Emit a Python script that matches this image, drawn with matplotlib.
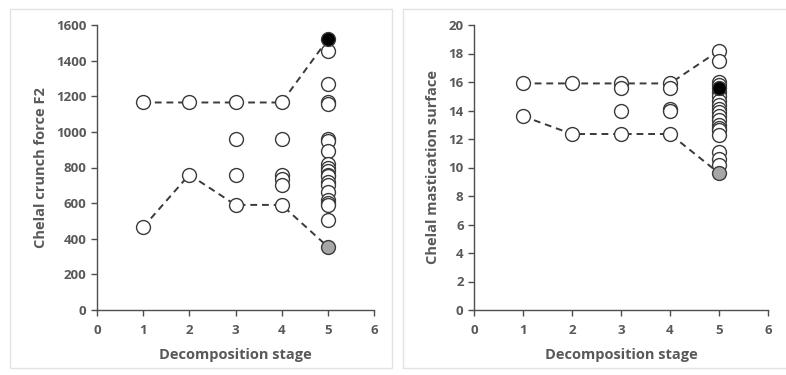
import matplotlib
matplotlib.use("Agg")
import matplotlib.pyplot as plt
from matplotlib.patches import Rectangle

# ---- data: chelal crunch force F2 ----
force_stages = [1, 1, 2, 2, 3, 3, 3, 3, 4, 4, 4, 4, 4, 4,
                5, 5, 5, 5, 5, 5, 5, 5, 5, 5, 5, 5, 5, 5, 5, 5, 5, 5, 5]
force_values = [1165, 465, 1165, 760, 1165, 960, 760, 590, 1165, 960, 760, 735, 700, 590,
                1455, 1270, 1165, 1155, 960, 950, 890, 820, 800, 780, 760, 750, 720,
                700, 660, 620, 600, 590, 505]
force_max = (5, 1520)
force_min = (5, 355)
force_upper = [1165, 1165, 1165, 1165, 1520]
force_lower = [465, 760, 590, 590, 355]

# ---- data: chelal mastication surface ----
surf_stages = [1, 1, 2, 2, 3, 3, 3, 3, 4, 4, 4, 4, 4,
               5, 5, 5, 5, 5, 5, 5, 5, 5, 5, 5, 5, 5, 5, 5, 5, 5, 5, 5]
surf_values = [15.9, 13.6, 15.9, 12.35, 15.9, 15.6, 14.0, 12.35, 15.9, 15.6, 14.1, 13.95, 12.35,
               18.2, 17.5, 16.0, 15.8, 15.3, 15.0, 14.7, 14.4, 14.1, 13.9, 13.6, 13.3,
               13.0, 12.8, 12.6, 12.3, 11.1, 10.6, 10.2]
surf_max = (5, 15.6)
surf_min = (5, 9.6)
surf_upper = [15.9, 15.9, 15.9, 15.9, 18.2]
surf_lower = [13.6, 12.35, 12.35, 12.35, 9.6]

line_x = [1, 2, 3, 4, 5]

grey_txt = "#595959"
edge = "#3a3a3a"
plt.rcParams['font.family'] = ['Open Sans', 'DejaVu Sans']

fig = plt.figure(figsize=(7.86, 3.75), dpi=100)

# light panel frames
for x0, x1 in [(10, 392), (403, 790)]:
    fig.patches.append(Rectangle((x0 / 786, 0.02), (x1 - x0) / 786, 1 - 9 / 375 - 0.02,
                                 transform=fig.transFigure, fill=False,
                                 edgecolor="#e3e3e3", linewidth=1))

ax1 = fig.add_axes([97 / 786, 1 - 310 / 375, 277 / 786, 285 / 375])
ax2 = fig.add_axes([474 / 786, 1 - 310 / 375, 294 / 786, 285 / 375])


def draw(ax, stages, values, upper, lower, top_pt, low_pt, ymax, ystep, ylabel):
    ax.plot(line_x, upper, ls=(0, (3.5, 2.5)), color=edge, lw=1.4, zorder=1)
    ax.plot(line_x, lower, ls=(0, (3.5, 2.5)), color=edge, lw=1.4, zorder=1)
    ax.plot(stages, values, "o", ms=10, mfc="white", mec=edge, mew=1.0, zorder=2)
    ax.plot(*low_pt, "o", ms=10, mfc="#a6a6a6", mec=edge, mew=1.0, zorder=3)
    ax.plot(*top_pt, "o", ms=10, mfc="black", mec=edge, mew=1.0, zorder=3)
    ax.set_xlim(0, 6)
    ax.set_ylim(0, ymax)
    ax.set_xticks(range(0, 7))
    ax.set_yticks(range(0, ymax + 1, ystep))
    for s in ["top", "right"]:
        ax.spines[s].set_visible(False)
    for s in ["left", "bottom"]:
        ax.spines[s].set_color("#4d4d4d")
        ax.spines[s].set_linewidth(1.0)
    ax.tick_params(direction="out", length=4, width=1, color="#4d4d4d",
                   labelsize=9.5, labelcolor=grey_txt)
    ax.tick_params(axis="x", pad=6)
    for lab in ax.get_xticklabels() + ax.get_yticklabels():
        lab.set_fontweight("bold")
    ax.set_xlabel("Decomposition stage", fontsize=10.5, fontweight="bold",
                  color=grey_txt, labelpad=8)
    ax.set_ylabel(ylabel, fontsize=10.5, fontweight="bold", color=grey_txt, labelpad=6)
    ax.set_facecolor("none")


draw(ax1, force_stages, force_values, force_upper, force_lower, force_max, force_min,
     1600, 200, "Chelal crunch force F2")
draw(ax2, surf_stages, surf_values, surf_upper, surf_lower, surf_max, surf_min,
     20, 2, "Chelal mastication surface")

fig.savefig("out.png", dpi=100)
